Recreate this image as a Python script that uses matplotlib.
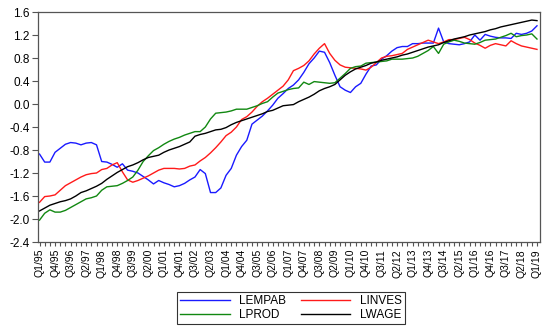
import numpy as np
import matplotlib.pyplot as plt
from matplotlib.ticker import MultipleLocator, FormatStrFormatter

plt.rcParams['font.family'] = ['Liberation Sans', 'DejaVu Sans']

# quarterly series Q1/95 .. Q1/19
quarters = []
for yr in range(1995, 2020):
    for q in range(1, 5):
        quarters.append("Q%d/%02d" % (q, yr % 100))
quarters = quarters[:97]

lempab = [-0.87, -1.01, -1.01, -0.84, -0.77, -0.70, -0.67, -0.68, -0.71, -0.68,
          -0.67, -0.71, -1.00, -1.01, -1.05, -1.10, -1.04, -1.15, -1.17, -1.20,
          -1.26, -1.32, -1.39, -1.33, -1.37, -1.40, -1.44, -1.42, -1.38, -1.32,
          -1.27, -1.14, -1.21, -1.54, -1.54, -1.46, -1.24, -1.12, -0.89, -0.74,
          -0.63, -0.35, -0.28, -0.21, -0.12, -0.02, 0.10, 0.18, 0.27, 0.33,
          0.42, 0.55, 0.70, 0.80, 0.92, 0.90, 0.72, 0.50, 0.30, 0.24,
          0.20, 0.30, 0.36, 0.52, 0.66, 0.68, 0.78, 0.84, 0.92, 0.98,
          1.00, 1.00, 1.05, 1.05, 1.06, 1.06, 1.06, 1.32, 1.08, 1.05,
          1.04, 1.03, 1.05, 1.08, 1.20, 1.11, 1.21, 1.18, 1.16, 1.15,
          1.15, 1.14, 1.23, 1.21, 1.23, 1.27, 1.36]

linves = [-1.71, -1.61, -1.60, -1.58, -1.50, -1.42, -1.37, -1.32, -1.27, -1.23,
          -1.21, -1.20, -1.14, -1.12, -1.06, -1.02, -1.18, -1.32, -1.36, -1.33,
          -1.29, -1.25, -1.20, -1.15, -1.12, -1.12, -1.12, -1.13, -1.12, -1.08,
          -1.06, -0.99, -0.93, -0.85, -0.76, -0.66, -0.55, -0.49, -0.40, -0.27,
          -0.22, -0.14, -0.04, 0.04, 0.10, 0.17, 0.24, 0.31, 0.42, 0.58,
          0.62, 0.67, 0.75, 0.87, 0.97, 1.05, 0.88, 0.76, 0.68, 0.64,
          0.63, 0.62, 0.61, 0.59, 0.64, 0.72, 0.80, 0.83, 0.84, 0.86,
          0.88, 0.95, 0.99, 1.03, 1.07, 1.11, 1.08, 1.05, 1.08, 1.12,
          1.12, 1.14, 1.16, 1.12, 1.06, 1.02, 0.97, 1.02, 1.05, 1.03,
          1.01, 1.10, 1.05, 1.01, 0.99, 0.97, 0.95]

lprod = [-2.02, -1.90, -1.84, -1.88, -1.88, -1.85, -1.80, -1.75, -1.70, -1.65,
         -1.63, -1.60, -1.50, -1.44, -1.43, -1.42, -1.38, -1.33, -1.27, -1.15,
         -1.00, -0.90, -0.81, -0.76, -0.70, -0.65, -0.61, -0.58, -0.54, -0.51,
         -0.48, -0.48, -0.40, -0.26, -0.16, -0.15, -0.14, -0.12, -0.09, -0.09,
         -0.09, -0.06, -0.03, 0.01, 0.04, 0.12, 0.19, 0.22, 0.25, 0.27,
         0.28, 0.38, 0.34, 0.39, 0.38, 0.37, 0.36, 0.37, 0.45, 0.53,
         0.62, 0.65, 0.66, 0.71, 0.72, 0.73, 0.74, 0.75, 0.78, 0.78,
         0.78, 0.79, 0.80, 0.83, 0.88, 0.93, 1.00, 0.88, 1.04, 1.08,
         1.11, 1.09, 1.06, 1.05, 1.04, 1.07, 1.11, 1.12, 1.13, 1.16,
         1.19, 1.23, 1.17, 1.19, 1.20, 1.22, 1.13]

lwage = [-1.86, -1.81, -1.76, -1.73, -1.70, -1.68, -1.65, -1.60, -1.54, -1.51,
         -1.47, -1.43, -1.38, -1.31, -1.25, -1.19, -1.14, -1.09, -1.06, -1.02,
         -0.97, -0.93, -0.91, -0.89, -0.84, -0.80, -0.77, -0.74, -0.70, -0.66,
         -0.56, -0.53, -0.51, -0.48, -0.45, -0.44, -0.41, -0.36, -0.32, -0.29,
         -0.26, -0.23, -0.20, -0.17, -0.13, -0.11, -0.07, -0.03, -0.02, -0.01,
         0.04, 0.08, 0.12, 0.17, 0.23, 0.27, 0.30, 0.34, 0.42, 0.50,
         0.56, 0.61, 0.64, 0.67, 0.71, 0.73, 0.76, 0.78, 0.80, 0.82,
         0.85, 0.87, 0.90, 0.93, 0.96, 0.99, 1.01, 1.03, 1.07, 1.10,
         1.13, 1.15, 1.17, 1.20, 1.22, 1.24, 1.26, 1.29, 1.31, 1.34,
         1.36, 1.38, 1.40, 1.42, 1.44, 1.46, 1.45]

x = np.arange(len(quarters))

fig = plt.figure(figsize=(5.5, 3.29), dpi=100)
ax = fig.add_axes([0.069, 0.2644, 0.913, 0.6991])

l1, = ax.plot(x, lempab, color='#1a1aff', lw=1.0, label='LEMPAB')
l2, = ax.plot(x, linves, color='#ff1a1a', lw=1.0, label='LINVES')
l3, = ax.plot(x, lprod, color='#118811', lw=1.0, label='LPROD')
l4, = ax.plot(x, lwage, color='black', lw=1.0, label='LWAGE')

ax.set_xlim(-0.3, 96.6)
ax.set_ylim(-2.4, 1.6)
ax.yaxis.set_major_locator(MultipleLocator(0.4))
ax.yaxis.set_major_formatter(FormatStrFormatter('%.1f'))

ax.set_xticks(x[::3])
ax.set_xticklabels(quarters[::3], rotation=90, fontsize=7.5)
ax.set_xticks(x, minor=True)
ax.tick_params(axis='y', labelsize=8.5, length=4, width=0.8, color='#555555', pad=2)
ax.tick_params(axis='x', which='both', length=3, width=0.8, color='#555555', pad=2)

for s in ax.spines.values():
    s.set_color('#555555')
    s.set_linewidth(0.9)

leg = fig.legend(handles=[l1, l3, l2, l4], ncol=2, loc='center',
                 bbox_to_anchor=(0.529, 0.064), fontsize=8.5, frameon=True,
                 fancybox=False, edgecolor='black', handlelength=4.2,
                 columnspacing=1.2, borderpad=0.3, labelspacing=0.15,
                 handletextpad=0.8)
leg.get_frame().set_linewidth(0.8)

fig.savefig('out.png', dpi=100)
